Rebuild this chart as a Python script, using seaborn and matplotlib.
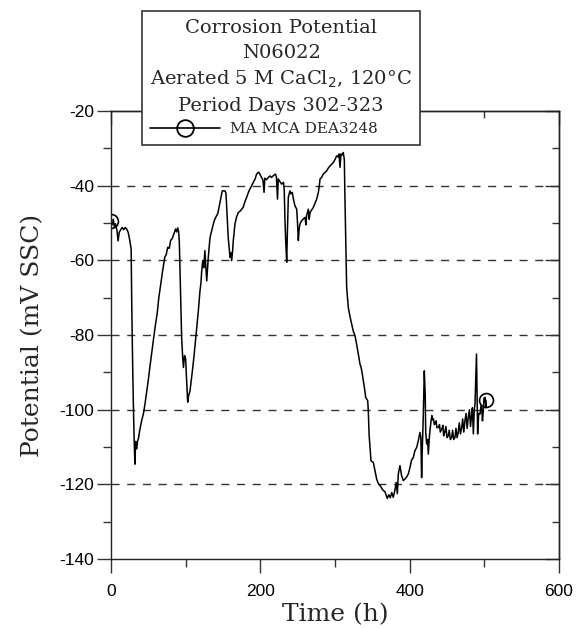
import numpy as np
import pandas as pd
import matplotlib
matplotlib.use("Agg")
import matplotlib.pyplot as plt
import seaborn as sns

# ---- data ----
time_h = [
    0, 1.5, 3, 4.5, 6, 8, 9.5, 11, 13, 15, 17, 19, 21, 23, 25, 27, 27.8, 29, 30, 31,
    32, 33, 34.5, 35.5, 37, 38.5, 41, 43.5, 45.5, 48, 50, 52, 55, 57, 59, 62, 64, 66, 69, 72,
    74, 76, 78, 80, 82, 83.5, 85, 86.5, 88, 89.3, 90.5, 91.5, 92.4, 93.5, 94.6, 96, 97, 98.5, 100, 101,
    102.7, 104, 105.8, 107, 109, 111, 112.5, 115, 117, 119.2, 120.5, 121.5, 123, 124.2, 125.8, 126.8, 128.2, 130.3, 132.6, 135,
    137, 139, 141.5, 143, 146, 149, 152.7, 154, 155, 157, 159.4, 160.5, 161.6, 163, 163.8, 166, 168, 170.5, 173, 175,
    177, 179, 181.7, 184, 186, 188, 190.6, 193, 195, 197, 198, 200, 201.8, 203.5, 205, 206, 208, 210.7, 213, 215,
    217.4, 220, 221.5, 223, 224, 226, 228.6, 231, 232, 233, 234, 235.3, 236.3, 237.5, 239.7, 241, 242.8, 244.5, 246.4, 248.7,
    249.8, 250.9, 252, 253, 255, 257.6, 260, 261, 262, 264.3, 265.5, 266.5, 268.5, 271, 273, 275.5, 277.7, 279, 280, 282,
    284.3, 286.5, 288.9, 291, 293.3, 295.5, 297.7, 300, 302.3, 304, 305.4, 306.7, 308, 309.5, 311, 312.5, 313.2, 314.3, 315.6, 317.8,
    320, 322.3, 324.5, 326.8, 329, 331.2, 333.5, 335, 336.6, 339.3, 341.1, 343.8, 344.6, 345.6, 348.2, 351.3, 353.6, 355.8, 358, 361,
    364, 367, 370, 372, 374, 376, 378, 380, 382, 383.5, 384.8, 387, 389, 391.5, 394, 396, 398.2, 400.4, 402.5, 404.9,
    407, 409.4, 411.6, 413.8, 415, 416, 417, 418.2, 419.6, 420.8, 421.5, 422.8, 424, 425, 426.3, 427.6, 429, 429.8, 431, 432,
    433, 434, 435.5, 436.5, 438.3, 440, 441, 443, 444.5, 445.5, 447, 448.5, 450, 451.7, 453, 454.5, 456.3, 457.5, 459, 460.7,
    462, 463.5, 465, 466.5, 468, 469.7, 471, 472.5, 474, 475.5, 477, 478.5, 480, 481.5, 483, 484, 485.3, 486.5, 487.5, 488.5,
    489.5, 490.3, 491, 492.5, 494.2, 495.5, 496.4, 497.5, 498.6, 499.5, 500.9, 502, 502.2,
]
potential_mv = [
    -49.5, -50.5, -49, -51, -50.2, -52, -54.8, -52.5, -51.8, -51.2, -51.8, -51.2, -51.6, -52.5, -54.5, -57, -72, -88, -99, -108,
    -114.6, -108.5, -110.5, -108.5, -107.5, -105.5, -103, -101, -98.5, -95, -92, -88.7, -84, -81, -78, -74, -70, -67.3, -63, -59.2,
    -58.4, -56.5, -56.8, -54.6, -54.2, -53.3, -52.5, -51.6, -52.4, -51.3, -52.2, -55, -62.8, -72, -80.6, -86, -88.7, -85.5, -86.4, -91,
    -98, -96.2, -95, -93, -89.6, -86, -82.9, -77.5, -73.5, -68.1, -66, -62.8, -60, -62, -57.4, -61, -65.5, -59.2, -53.9, -52,
    -50.3, -49, -48, -47.5, -44.5, -41.4, -41.4, -42, -45.8, -53.9, -59.2, -58, -60.1, -57, -54.7, -50.3, -48.5, -47.2, -46.8, -46.3,
    -45.8, -44.5, -43.1, -41.8, -40.9, -40.2, -39.1, -38.2, -36.9, -36.5, -36.4, -37.2, -37.8, -38.5, -41.8, -38, -38.4, -37.8, -37.4, -37.8,
    -37.3, -36.9, -37.6, -43.6, -38.2, -38.8, -39.6, -39.1, -41, -49.4, -55, -60.5, -52, -43.1, -41.4, -42.2, -41.8, -43.8, -45.4, -46.3,
    -50, -54.7, -51.5, -50.3, -49.5, -48.9, -48.5, -50.5, -48, -46.3, -49, -47.2, -46.6, -45.8, -44.8, -43.6, -41.8, -40, -38.2, -37.8,
    -36.9, -36.5, -36, -35.3, -34.7, -34.3, -33.8, -33, -32, -32.3, -31.5, -35.1, -31.5, -31.8, -31.1, -33, -42, -53.9, -67.2, -72.6,
    -75, -77, -79, -80.2, -82.5, -85.1, -87.8, -88.7, -90.5, -94, -96.7, -97.6, -100.3, -106.5, -113.7, -114.1, -116.4, -118.6, -119.8, -120.5,
    -121.5, -122, -123.8, -122.8, -123.6, -122.2, -123.5, -121.8, -119.5, -122.5, -117.2, -115, -117.5, -119, -118.5, -118, -117.2, -115.5, -113.5, -112.8,
    -111, -110.1, -108.3, -106.1, -107.5, -118.2, -110, -102, -89.6, -96, -106, -109.2, -108, -111.9, -107.5, -104.8, -102.5, -101.6, -102.8, -102.5,
    -104, -103.8, -103, -104.8, -104.8, -104, -106, -105.2, -104.2, -107, -106.1, -104.5, -107.5, -107, -105.5, -108, -107.4, -105.5, -108, -107.4,
    -105, -107.5, -106.1, -103.5, -106.5, -104.8, -102.5, -106, -103, -101, -105, -102, -100, -104.5, -101.2, -99.5, -106.5, -100, -98.5, -92,
    -85.1, -96, -106.5, -101, -101.2, -99, -99.4, -103, -100.3, -97, -96.7, -99.5, -97.5,
]
series_label = "MA MCA DEA3248"
title_lines = ["Corrosion Potential", "N06022",
               "Aerated 5 M CaCl$_2$, 120\u00b0C", "Period Days 302-323"]
x_ticks = [0, 200, 400, 600]
y_ticks = [-140, -120, -100, -80, -60, -40, -20]

df = pd.DataFrame({"Time (h)": time_h, "Potential": potential_mv, "series": series_label})

sns.set_style("ticks")
plt.rcParams["axes.unicode_minus"] = False
plt.rcParams["font.family"] = ["Liberation Sans", "DejaVu Sans"]

fig = plt.figure(figsize=(5.76, 6.28), dpi=100)
ax = fig.add_axes([111 / 576, 1 - 559 / 628, 448 / 576, 448 / 628])

n = len(time_h)
sns.lineplot(data=df, x="Time (h)", y="Potential", hue="series", palette=["black"],
             sort=False, estimator=None, ax=ax, linewidth=1.1,
             marker="o", markersize=10, markerfacecolor="none",
             markeredgecolor="black", markeredgewidth=1.2,
             markevery=[0, n - 1], legend=False)

ax.set_xlim(0, 600)
ax.set_ylim(-140, -20)
ax.set_xticks(x_ticks)
ax.set_yticks(y_ticks)
ax.set_xticks([100, 300, 500], minor=True)
ax.set_yticks([-130, -110, -90, -70, -50, -30], minor=True)
ax.tick_params(axis="both", which="major", direction="out", length=10, width=1,
               colors="#333333", labelcolor="black", labelsize=12.5)
ax.tick_params(axis="x", which="major", pad=8)
ax.tick_params(axis="y", which="major", pad=2)
ax.tick_params(axis="both", which="minor", direction="out", length=6, width=1, colors="#333333")

for sp in ax.spines.values():
    sp.set_color("#222222")
    sp.set_linewidth(1.0)

for yv in [-120, -100, -80, -60, -40]:
    ax.axhline(yv, color="#333333", linewidth=1.0, dashes=(5.8, 5.5), zorder=0.5)

# mirrored inward ticks on top / right
sec_y = ax.secondary_yaxis("right")
sec_y.set_yticks(y_ticks)
sec_y.set_yticks([-130, -110, -90, -70, -50, -30], minor=True)
sec_y.tick_params(which="major", direction="in", length=10, width=1, colors="#333333", labelright=False)
sec_y.tick_params(which="minor", direction="in", length=5, width=1, colors="#333333")
sec_x = ax.secondary_xaxis("top")
sec_x.set_xticks(x_ticks)
sec_x.set_xticks([100, 300, 500], minor=True)
sec_x.tick_params(which="major", direction="in", length=10, width=1, colors="#333333", labeltop=False)
sec_x.tick_params(which="minor", direction="in", length=5, width=1, colors="#333333")
for s in (sec_x, sec_y):
    for sp in s.spines.values():
        sp.set_color("#222222")
        sp.set_linewidth(1.0)

serif = ["DejaVu Serif"]
ax.set_xlabel("Time (h)", family=serif, fontsize=18, labelpad=3)
ax.set_ylabel("Potential (mV SSC)", family=serif, fontsize=18, labelpad=11)

handle = plt.Line2D([], [], color="black", linewidth=1.2, marker="o", markersize=12,
                    markerfacecolor="none", markeredgecolor="black", markeredgewidth=1.3)
leg = ax.legend([handle], [series_label], title="\n".join(title_lines),
                loc="upper center", bbox_to_anchor=(281 / 576, 1 - 11 / 628),
                bbox_transform=fig.transFigure, borderaxespad=0,
                frameon=True, fancybox=False, edgecolor="#333333", framealpha=1,
                handlelength=4.6, handletextpad=0.6, numpoints=1, borderpad=0.55,
                alignment="left",
                prop={"family": serif, "size": 11},
                title_fontproperties={"family": serif, "size": 14})
leg.get_frame().set_linewidth(1.2)
leg.get_title().set_linespacing(1.45)
leg.get_title().set_multialignment("center")
leg.set_zorder(10)

fig.savefig("out.png", dpi=100)
